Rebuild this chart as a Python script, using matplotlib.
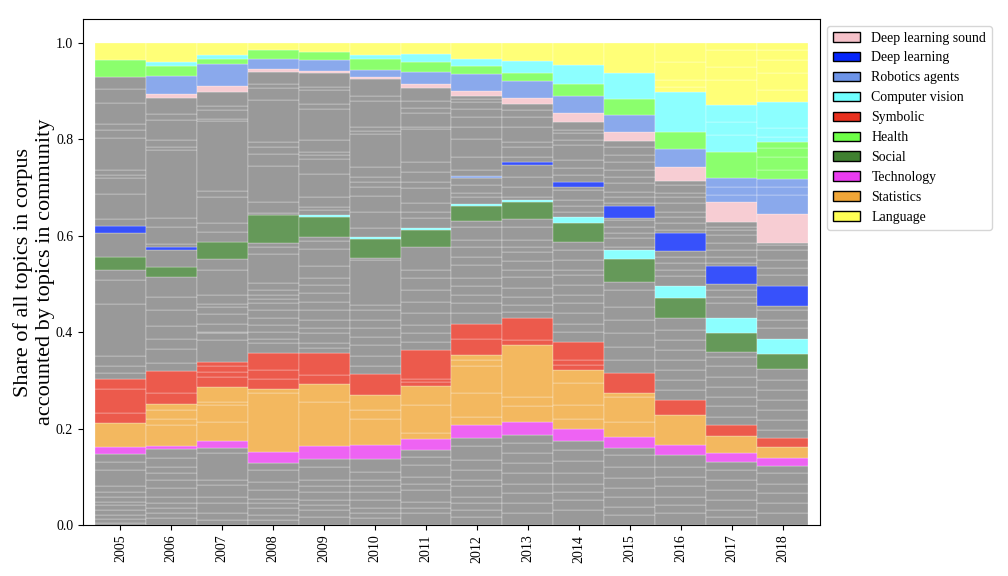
import matplotlib
matplotlib.use("Agg")
import matplotlib.pyplot as plt
from matplotlib.patches import Patch

plt.rcParams['font.family'] = ['Liberation Serif', 'DejaVu Serif']

years = list(range(2005, 2019))

legend_order = ["Deep learning sound", "Deep learning", "Robotics agents", "Computer vision",
                "Symbolic", "Health", "Social", "Technology", "Statistics", "Language"]
community_colors = {
    "Deep learning sound": "#f5c1c9",
    "Deep learning": "#0526fa",
    "Robotics agents": "#6d94e8",
    "Computer vision": "#70ffff",
    "Symbolic": "#e8311f",
    "Health": "#6eff48",
    "Social": "#3f8030",
    "Technology": "#ea3cf0",
    "Statistics": "#f0a637",
    "Language": "#ffff55",
}
other_color = "#808080"

# (lower, upper) cumulative share of each community block per year; None = absent
technology = [(0.147, 0.162), (0.158, 0.165), (0.160, 0.174), (0.129, 0.151), (0.136, 0.165),
              (0.136, 0.167), (0.156, 0.178), (0.181, 0.207), (0.187, 0.214), (0.174, 0.199),
              (0.160, 0.183), (0.145, 0.166), (0.131, 0.150), (0.123, 0.140)]
statistics = [(0.162, 0.211), (0.165, 0.252), (0.174, 0.286), (0.151, 0.282), (0.165, 0.293),
              (0.167, 0.270), (0.178, 0.289), (0.207, 0.353), (0.214, 0.373), (0.199, 0.322),
              (0.183, 0.273), (0.166, 0.228), (0.150, 0.185), (0.140, 0.161)]
symbolic = [(0.211, 0.302), (0.252, 0.320), (0.286, 0.339), (0.282, 0.357), (0.293, 0.357),
            (0.270, 0.313), (0.289, 0.363), (0.353, 0.417), (0.373, 0.429), (0.322, 0.380),
            (0.273, 0.315), (0.228, 0.259), (0.185, 0.207), (0.161, 0.181)]
social = [(0.529, 0.557), (0.515, 0.536), (0.551, 0.588), (0.586, 0.643), (0.598, 0.640),
          (0.555, 0.593), (0.577, 0.612), (0.631, 0.662), (0.636, 0.670), (0.587, 0.627),
          (0.504, 0.551), (0.430, 0.472), (0.360, 0.398), (0.324, 0.355)]
vision_lower = [None, None, None, None, (0.640, 0.643), (0.593, 0.598), (0.612, 0.617),
                (0.662, 0.667), (0.670, 0.674), (0.627, 0.640), (0.551, 0.571), (0.472, 0.496),
                (0.398, 0.430), (0.355, 0.386)]
deep_learning = [(0.606, 0.620), (0.570, 0.577), None, None, None, None, None, None,
                 (0.747, 0.753), (0.702, 0.712), (0.638, 0.662), (0.568, 0.605),
                 (0.500, 0.538), (0.454, 0.496)]
robotics_lower = [None, None, None, None, None, None, None, (0.721, 0.725),
                  None, None, None, None, None, None]
dl_sound = [None, (0.886, 0.894), (0.899, 0.911), (0.941, 0.946), (0.938, 0.942),
            (0.925, 0.929), (0.907, 0.915), (0.891, 0.900), (0.874, 0.887), (0.837, 0.854),
            (0.797, 0.815), (0.714, 0.743), (0.628, 0.671), (0.586, 0.645)]
robotics = [None, (0.894, 0.932), (0.911, 0.957), (0.946, 0.967), (0.942, 0.965),
            (0.929, 0.945), (0.915, 0.940), (0.900, 0.936), (0.887, 0.922), (0.854, 0.891),
            (0.815, 0.851), (0.743, 0.780), (0.671, 0.721), (0.645, 0.718)]
health = [(0.930, 0.965), (0.932, 0.953), (0.957, 0.968), (0.967, 0.985), (0.965, 0.981),
          (0.945, 0.967), (0.940, 0.961), (0.936, 0.952), (0.922, 0.938), (0.891, 0.916),
          (0.851, 0.884), (0.780, 0.816), (0.721, 0.775), (0.718, 0.794)]
vision_upper = [None, (0.953, 0.960), (0.968, 0.975), None, None, (0.967, 0.975),
                (0.961, 0.978), (0.952, 0.967), (0.938, 0.963), (0.916, 0.954),
                (0.884, 0.939), (0.816, 0.898), (0.775, 0.871), (0.794, 0.878)]
language = [(0.965, 1.0), (0.960, 1.0), (0.975, 1.0), (0.985, 1.0), (0.981, 1.0),
            (0.975, 1.0), (0.978, 1.0), (0.967, 1.0), (0.963, 1.0), (0.954, 1.0),
            (0.939, 1.0), (0.898, 1.0), (0.871, 1.0), (0.878, 1.0)]

community_blocks = [
    ("Technology", technology), ("Statistics", statistics), ("Symbolic", symbolic),
    ("Social", social), ("Computer vision", vision_lower), ("Deep learning", deep_learning),
    ("Robotics agents", robotics_lower), ("Deep learning sound", dl_sound),
    ("Robotics agents", robotics), ("Health", health), ("Computer vision", vision_upper),
    ("Language", language),
]

# boundaries between individual topics (cumulative share) per year
topic_cuts = [
    [0.904, 0.875, 0.833, 0.820, 0.804, 0.736, 0.727, 0.721, 0.686, 0.634,
     0.508, 0.458, 0.351, 0.330, 0.316, 0.282, 0.232,
     0.131, 0.114, 0.080, 0.069, 0.059, 0.048, 0.041, 0.031, 0.021, 0.012, 0.005],
    [0.852, 0.840, 0.799, 0.785, 0.778, 0.638, 0.618, 0.584,
     0.474, 0.447, 0.414, 0.387, 0.365, 0.336, 0.273, 0.239, 0.219, 0.207,
     0.139, 0.121, 0.107, 0.093, 0.076, 0.059, 0.045, 0.035, 0.024, 0.014],
    [0.870, 0.862, 0.842, 0.838, 0.694, 0.680, 0.626, 0.609, 0.530,
     0.477, 0.458, 0.453, 0.437, 0.418, 0.401, 0.398, 0.384, 0.329, 0.318, 0.308,
     0.256, 0.249, 0.214, 0.149, 0.093, 0.083, 0.059, 0.045, 0.024, 0.010],
    [0.916, 0.906, 0.882, 0.794, 0.784, 0.770, 0.744, 0.670, 0.648, 0.577, 0.563,
     0.503, 0.488, 0.477, 0.468, 0.460, 0.447, 0.429, 0.415, 0.401, 0.387, 0.377,
     0.322, 0.304, 0.273, 0.114, 0.090, 0.073, 0.055, 0.045, 0.035, 0.021, 0.010],
    [0.909, 0.902, 0.873, 0.864, 0.799, 0.775, 0.768, 0.759, 0.728, 0.681, 0.659, 0.654,
     0.590, 0.572, 0.537, 0.512, 0.498, 0.481, 0.463, 0.446, 0.425, 0.408, 0.398, 0.377,
     0.367, 0.311, 0.256, 0.121, 0.093, 0.080, 0.069, 0.052, 0.041, 0.031, 0.017],
    [0.891, 0.880, 0.825, 0.818, 0.811, 0.742, 0.723, 0.712, 0.702, 0.683, 0.650, 0.616,
     0.550, 0.456, 0.446, 0.425, 0.408, 0.391, 0.374, 0.351, 0.330, 0.239, 0.221,
     0.111, 0.093, 0.080, 0.069, 0.052, 0.035, 0.024, 0.014],
    [0.880, 0.866, 0.854, 0.826, 0.821, 0.754, 0.732, 0.712, 0.699, 0.668, 0.650, 0.637,
     0.529, 0.512, 0.488, 0.463, 0.439, 0.415, 0.398, 0.380, 0.304, 0.297, 0.249, 0.190,
     0.142, 0.125, 0.100, 0.086, 0.073, 0.048, 0.035, 0.024],
    [0.885, 0.878, 0.864, 0.847, 0.826, 0.802, 0.764, 0.737, 0.706, 0.688, 0.681,
     0.619, 0.591, 0.577, 0.557, 0.540, 0.512, 0.495, 0.477, 0.460, 0.439, 0.387,
     0.342, 0.329, 0.273, 0.225, 0.163, 0.135, 0.114, 0.093, 0.080, 0.059, 0.045, 0.031, 0.017],
    [0.861, 0.847, 0.826, 0.795, 0.785, 0.764, 0.723, 0.702, 0.681,
     0.619, 0.591, 0.577, 0.567, 0.547, 0.529, 0.515, 0.491, 0.474, 0.457, 0.443, 0.384,
     0.266, 0.246, 0.170, 0.149, 0.128, 0.107, 0.086, 0.066, 0.045, 0.024],
    [0.820, 0.813, 0.799, 0.788, 0.757, 0.740, 0.726, 0.695, 0.675, 0.661, 0.650,
     0.571, 0.550, 0.529, 0.519, 0.498, 0.477, 0.460, 0.439, 0.418, 0.401, 0.342, 0.332,
     0.294, 0.249, 0.221, 0.156, 0.132, 0.107, 0.086, 0.069, 0.052, 0.031],
    [0.785, 0.768, 0.754, 0.737, 0.723, 0.709, 0.692, 0.681, 0.668,
     0.633, 0.619, 0.605, 0.595, 0.577, 0.488, 0.453, 0.425, 0.398, 0.370, 0.342,
     0.266, 0.214, 0.145, 0.121, 0.097, 0.076, 0.059, 0.038, 0.021],
    [0.961, 0.923, 0.909, 0.706, 0.688, 0.681, 0.668, 0.650, 0.640, 0.626, 0.612,
     0.557, 0.543, 0.529, 0.516, 0.405, 0.384, 0.363, 0.342, 0.322, 0.301, 0.280,
     0.121, 0.100, 0.080, 0.059, 0.041, 0.024],
    [0.985, 0.951, 0.923, 0.836, 0.809, 0.702, 0.685, 0.619, 0.612, 0.602, 0.585, 0.571,
     0.557, 0.543, 0.488, 0.474, 0.460, 0.349, 0.329, 0.308, 0.287, 0.266, 0.246, 0.225,
     0.114, 0.093, 0.073, 0.052, 0.031, 0.017],
    [0.985, 0.965, 0.937, 0.903, 0.823, 0.806, 0.782, 0.764, 0.737, 0.702, 0.685,
     0.581, 0.571, 0.550, 0.533, 0.519, 0.446, 0.425, 0.408,
     0.301, 0.280, 0.259, 0.239, 0.218, 0.197, 0.107, 0.086, 0.066, 0.045, 0.024],
]

fig = plt.figure(figsize=(10.08, 5.76), dpi=100)
ax = fig.add_axes([0.0823, 0.0885, 0.7312, 0.8785])

for i, year in enumerate(years):
    blocks = []
    for name, series in community_blocks:
        if series[i] is not None:
            blocks.append((series[i][0], series[i][1], name))
    bounds = {0.0, 1.0}
    for lo, hi, _ in blocks:
        bounds.add(lo)
        bounds.add(hi)
    bounds.update(topic_cuts[i])
    bounds = sorted(bounds)
    for lo, hi in zip(bounds[:-1], bounds[1:]):
        mid = 0.5 * (lo + hi)
        col = other_color
        for blo, bhi, name in blocks:
            if blo <= mid <= bhi:
                col = community_colors[name]
                break
        ax.bar(i, hi - lo, bottom=lo, width=1.0, color=col, alpha=0.8,
               edgecolor='white', linewidth=0.25)

ax.set_xlim(-0.735, 13.735)
ax.set_ylim(0, 1.05)
ax.set_xticks(range(len(years)))
ax.set_xticklabels([str(y) for y in years], rotation=90, fontsize=10)
ax.set_yticks([0.0, 0.2, 0.4, 0.6, 0.8, 1.0])
ax.set_yticklabels(["0.0", "0.2", "0.4", "0.6", "0.8", "1.0"], fontsize=10)
ax.set_ylabel("Share of all topics in corpus\naccounted by topics in community",
              fontsize=16, labelpad=1)

handles = [Patch(facecolor=community_colors[c], edgecolor='black', label=c) for c in legend_order]
ax.legend(handles=handles, loc='upper left', bbox_to_anchor=(1.0, 1.0), fontsize=10)

fig.savefig("out.png", dpi=100)
